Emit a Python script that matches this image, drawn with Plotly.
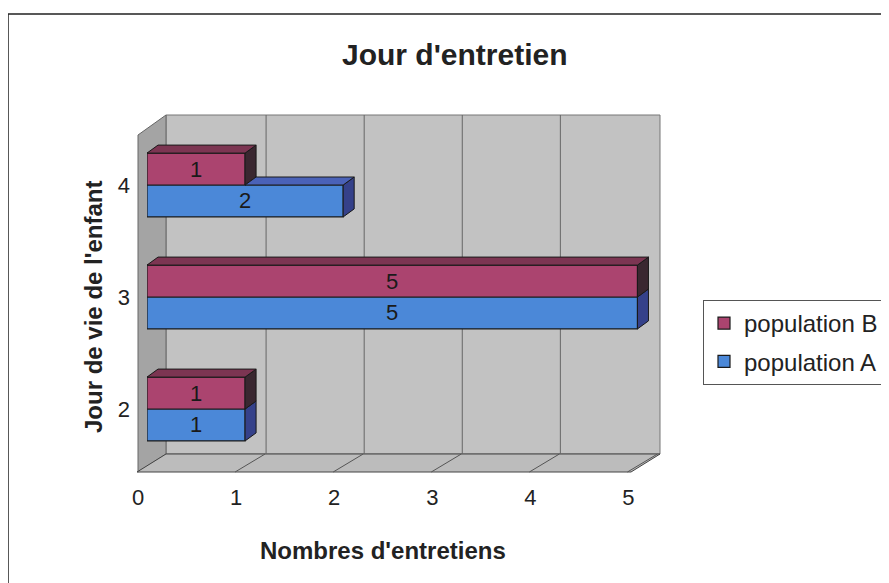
import plotly.graph_objects as go

categories = [2, 3, 4]
pop_a = [1, 5, 2]
pop_b = [1, 5, 1]
x_ticks = [0, 1, 2, 3, 4, 5]

title_text = "Jour d'entretien"
x_title = "Nombres d'entretiens"
y_title = "Jour de vie de l'enfant"

OFF = 8  # browser body margin
W, H = 889 - OFF, 583 - OFF
X_RANGE = [0, 5.24]
Y_RANGE = [1.4375, 4.625]
L, T, B = 147 - OFF, 115 - OFF, 472 - OFF
R = L + round(98 * (X_RANGE[1] - X_RANGE[0]))


def px(X):
    return (X - OFF - L) / (R - L)


def py(Y):
    return (B - (Y - OFF)) / (B - T)


FONT = "Liberation Sans, Arial, sans-serif"
col_a, top_a, side_a = "#4b88d8", "#4a62b8", "#35418a"
col_b, top_b, side_b = "#ab446f", "#7c3552", "#3a2730"
BARGAP = 0.43
half = (1 - BARGAP) / 2
dx = 11 / ((R - L) / (X_RANGE[1] - X_RANGE[0]))
dy = 8 / ((B - T) / (Y_RANGE[1] - Y_RANGE[0]))

fig = go.Figure()
fig.add_trace(go.Bar(
    y=categories, x=pop_a, orientation="h", name="population A",
    marker=dict(color=col_a, line=dict(color="#1a1a1a", width=1.2)),
    text=[str(v) for v in pop_a], textposition="inside", insidetextanchor="middle",
    textfont=dict(size=22, color="#1a1a1a", family=FONT),
    legendgroup="a", legendrank=2, hoverinfo="x+name"))
fig.add_trace(go.Bar(
    y=categories, x=pop_b, orientation="h", name="population B",
    marker=dict(color=col_b, line=dict(color="#1a1a1a", width=1.2)),
    text=[str(v) for v in pop_b], textposition="inside", insidetextanchor="middle",
    textfont=dict(size=22, color="#1a1a1a", family=FONT),
    legendgroup="b", legendrank=1, hoverinfo="x+name"))


def face(xs, ys, color):
    fig.add_trace(go.Scatter(x=xs + [xs[0]], y=ys + [ys[0]], mode="lines", fill="toself",
                             fillcolor=color, line=dict(color="#1a1a1a", width=1),
                             showlegend=False, hoverinfo="skip"))


# 3D faces derived from the bar values
for c, va, vb in zip(categories, pop_a, pop_b):
    a0, a1 = c - half, c
    b0, b1 = c, c + half
    face([va, va, va + dx, va + dx], [a0, a1, a1 + dy, a0 + dy], side_a)
    face([vb, vb, vb + dx, vb + dx], [b0, b1, b1 + dy, b0 + dy], side_b)
    face([0, vb, vb + dx, dx], [b1, b1, b1 + dy, b1 + dy], top_b)
    if va > vb:
        face([vb, va, va + dx, vb + dx], [a1, a1, a1 + dy, a1 + dy], top_a)

shapes = []
shapes.append(dict(type="rect", xref="paper", yref="paper",
                   x0=px(8), x1=px(905), y0=py(600), y1=py(14),
                   line=dict(color="#222", width=1.5), fillcolor="rgba(0,0,0,0)",
                   layer="below"))
shapes.append(dict(type="rect", xref="paper", yref="paper",
                   x0=px(166), x1=px(660), y0=py(454), y1=py(115),
                   line=dict(color="#777", width=1), fillcolor="#c2c2c2", layer="below"))
shapes.append(dict(type="path", xref="paper", yref="paper",
                   path=f"M {px(138)},{py(472)} L {px(138)},{py(135)} L {px(166)},{py(115)} L {px(166)},{py(454)} Z",
                   line=dict(color="#666", width=1), fillcolor="#a4a4a4", layer="below"))
shapes.append(dict(type="path", xref="paper", yref="paper",
                   path=f"M {px(137)},{py(472)} L {px(166)},{py(454)} L {px(660)},{py(454)} L {px(631)},{py(472)} Z",
                   line=dict(color="#444", width=1), fillcolor="#bcbcbc", layer="below"))
for k in x_ticks[1:-1]:
    shapes.append(dict(type="line", xref="x", yref="paper", xsizemode="pixel", xanchor=k,
                       x0=21, x1=21, y0=py(454), y1=py(115),
                       line=dict(color="#666", width=1), layer="below"))
for k in x_ticks[1:]:
    shapes.append(dict(type="line", xref="x", yref="paper", xsizemode="pixel", xanchor=k,
                       x0=-10, x1=20, y0=py(472), y1=py(454),
                       line=dict(color="#555", width=1), layer="below"))

fig.update_layout(
    width=W, height=H,
    margin=dict(l=L, r=W - R, t=T, b=H - B, autoexpand=False),
    paper_bgcolor="white", plot_bgcolor="rgba(0,0,0,0)",
    barmode="group", bargap=BARGAP, bargroupgap=0,
    font=dict(family=FONT, color="#222"),
    showlegend=True,
    legend=dict(x=px(703), y=py(300), xanchor="left", yanchor="top",
                traceorder="grouped", tracegroupgap=4, entrywidth=200,
                font=dict(size=24, color="#222", family=FONT),
                bordercolor="#555", borderwidth=1, bgcolor="white"),
    xaxis=dict(range=X_RANGE, tickvals=x_ticks, showgrid=False, zeroline=False,
               showline=False, ticks="", ticklabelshift=-9, ticklabelstandoff=10,
               tickfont=dict(size=22, color="#222", family=FONT)),
    yaxis=dict(range=Y_RANGE, tickvals=categories, showgrid=False, zeroline=False,
               showline=False, ticks="", ticklabelstandoff=16,
               tickfont=dict(size=22, color="#222", family=FONT)),
    shapes=shapes,
    annotations=[
        dict(text=f"<b>{title_text}</b>", xref="paper", yref="paper",
             x=px(455), y=py(55), xanchor="center", yanchor="middle",
             showarrow=False, font=dict(size=30, color="#222")),
        dict(text=f"<b>{x_title}</b>", xref="paper", yref="paper",
             x=px(383), y=py(550), xanchor="center", yanchor="middle",
             showarrow=False, font=dict(size=24, color="#222")),
        dict(text=f"<b>{y_title}</b>", xref="paper", yref="paper", textangle=-90,
             x=px(93), y=py(307), xanchor="center", yanchor="middle",
             showarrow=False, font=dict(size=24, color="#222")),
    ],
)

fig.write_html("out.html")
